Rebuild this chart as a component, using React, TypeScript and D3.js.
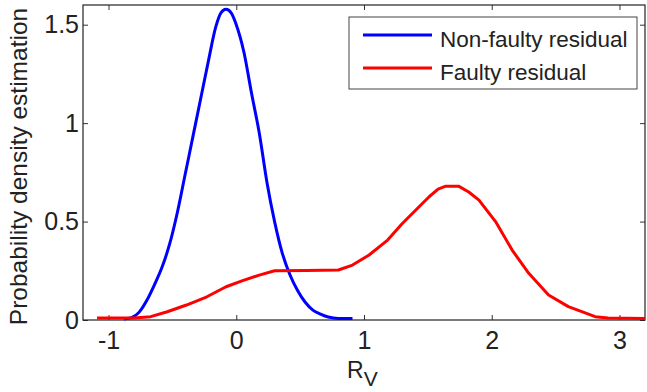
import * as d3 from "d3";
import { useEffect, useRef } from "react";

// Kernel density estimates: [R_V, density]
const nonFaulty: [number, number][] = [
  [-0.88, 0.005], [-0.82, 0.012], [-0.76, 0.04], [-0.7, 0.1], [-0.64, 0.18],
  [-0.58, 0.27], [-0.52, 0.39], [-0.46, 0.55], [-0.4, 0.74], [-0.34, 0.93],
  [-0.28, 1.12], [-0.22, 1.31], [-0.16, 1.49], [-0.12, 1.56], [-0.08, 1.578],
  [-0.04, 1.56], [0.0, 1.5], [0.06, 1.36], [0.12, 1.15], [0.18, 0.95],
  [0.24, 0.7], [0.3, 0.5], [0.36, 0.34], [0.42, 0.23], [0.48, 0.15],
  [0.54, 0.09], [0.6, 0.05], [0.66, 0.03], [0.72, 0.015], [0.8, 0.008],
  [0.91, 0.008],
];

const faulty: [number, number][] = [
  [-1.09, 0.01], [-0.8, 0.01], [-0.67, 0.017], [-0.54, 0.042], [-0.39, 0.076],
  [-0.23, 0.118], [-0.08, 0.169], [0.05, 0.2], [0.18, 0.228], [0.3, 0.25],
  [0.55, 0.252], [0.8, 0.254], [0.91, 0.279], [1.04, 0.33], [1.185, 0.406],
  [1.3, 0.49], [1.4, 0.555], [1.51, 0.626], [1.58, 0.665], [1.64, 0.68],
  [1.74, 0.68], [1.82, 0.65], [1.9, 0.609], [2.03, 0.5], [2.16, 0.355],
  [2.29, 0.237], [2.445, 0.127], [2.6, 0.068], [2.81, 0.017], [2.91, 0.01],
  [3.2, 0.008],
];

const xTicks = [-1, 0, 1, 2, 3];
const yTicks = [0, 0.5, 1, 1.5];
const seriesNames = ["Non-faulty residual", "Faulty residual"];
const seriesColors = ["#0000ff", "#ff0000"];

export default function App() {
  const svgRef = useRef<SVGSVGElement>(null);

  useEffect(() => {
    const svg = d3.select(svgRef.current);
    svg.selectAll("*").remove();

    const width = 647;
    const height = 392;
    const margin = { top: 5, right: 2, bottom: 72, left: 83 };
    const font = "'Liberation Sans', Arial, sans-serif";

    const x = d3.scaleLinear()
      .domain([-1.2, 3.2])
      .range([margin.left, width - margin.right]);

    const y = d3.scaleLinear()
      .domain([0, 1.6])
      .range([height - margin.bottom, margin.top]);

    svg.append("rect")
      .attr("width", width)
      .attr("height", height)
      .attr("fill", "#fff");

    const fmt = (d: d3.NumberValue) => String(d);

    // bottom axis with labels
    const gx = svg.append("g")
      .attr("transform", `translate(0,${height - margin.bottom})`)
      .call(d3.axisBottom(x).tickValues(xTicks).tickFormat(fmt).tickSizeInner(-5).tickSizeOuter(0).tickPadding(11));

    // left axis with labels
    const gy = svg.append("g")
      .attr("transform", `translate(${margin.left},0)`)
      .call(d3.axisLeft(y).tickValues(yTicks).tickFormat(fmt).tickSizeInner(-5).tickSizeOuter(0).tickPadding(4));

    // top & right ticks only
    const gt = svg.append("g")
      .attr("transform", `translate(0,${margin.top})`)
      .call(d3.axisTop(x).tickValues(xTicks).tickFormat(() => "").tickSizeInner(-5).tickSizeOuter(0));

    const gr = svg.append("g")
      .attr("transform", `translate(${width - margin.right},0)`)
      .call(d3.axisRight(y).tickValues(yTicks).tickFormat(() => "").tickSizeInner(-5).tickSizeOuter(0));

    [gx, gy, gt, gr].forEach(g => {
      g.select(".domain").remove();
      g.selectAll("line").attr("stroke", "#333");
      g.selectAll("text")
        .attr("fill", "#222")
        .attr("font-family", font)
        .attr("font-size", "25px");
    });

    // plot box
    svg.append("rect")
      .attr("x", margin.left)
      .attr("y", margin.top)
      .attr("width", width - margin.left - margin.right)
      .attr("height", height - margin.top - margin.bottom)
      .attr("fill", "none")
      .attr("stroke", "#222")
      .attr("stroke-width", 1.2);

    // curves: blue is smooth, red shows its polyline segments
    const curves = [d3.curveMonotoneX, d3.curveLinear];

    [nonFaulty, faulty].forEach((data, i) => {
      const line = d3.line<[number, number]>()
        .x(d => x(d[0]))
        .y(d => y(d[1]))
        .curve(curves[i]);

      svg.append("path")
        .datum(data)
        .attr("fill", "none")
        .attr("stroke", seriesColors[i])
        .attr("stroke-width", 3)
        .attr("stroke-linejoin", "round")
        .attr("d", line);
    });

    // axis titles
    const xLabel = svg.append("text")
      .attr("x", 347)
      .attr("y", 378)
      .attr("font-family", font)
      .attr("font-size", "23px")
      .attr("fill", "#222");
    xLabel.append("tspan").text("R");
    xLabel.append("tspan").attr("dy", 8).attr("font-size", "21px").text("V");

    svg.append("text")
      .attr("transform", `translate(27,${(margin.top + height - margin.bottom) / 2 + 4}) rotate(-90)`)
      .attr("text-anchor", "middle")
      .attr("font-family", font)
      .attr("font-size", "24.5px")
      .attr("fill", "#222")
      .text("Probability density estimation");

    // legend (top right)
    const legend = svg.append("g").attr("transform", "translate(349,17)");
    legend.append("rect")
      .attr("width", 288)
      .attr("height", 72)
      .attr("fill", "#fff")
      .attr("stroke", "#444")
      .attr("stroke-width", 1);

    seriesNames.forEach((label, i) => {
      const row = legend.append("g").attr("transform", `translate(0,${18 + i * 33})`);
      row.append("line")
        .attr("x1", 14)
        .attr("x2", 83)
        .attr("stroke", seriesColors[i])
        .attr("stroke-width", 3);
      row.append("text")
        .attr("x", 91)
        .attr("y", 12)
        .attr("font-family", font)
        .attr("font-size", "22.5px")
        .attr("fill", "#222")
        .text(label);
    });
  }, []);

  return (
    <svg
      ref={svgRef}
      width={647}
      height={392}
      style={{ position: "absolute", left: 0, top: 0 }}
    />
  );
}
